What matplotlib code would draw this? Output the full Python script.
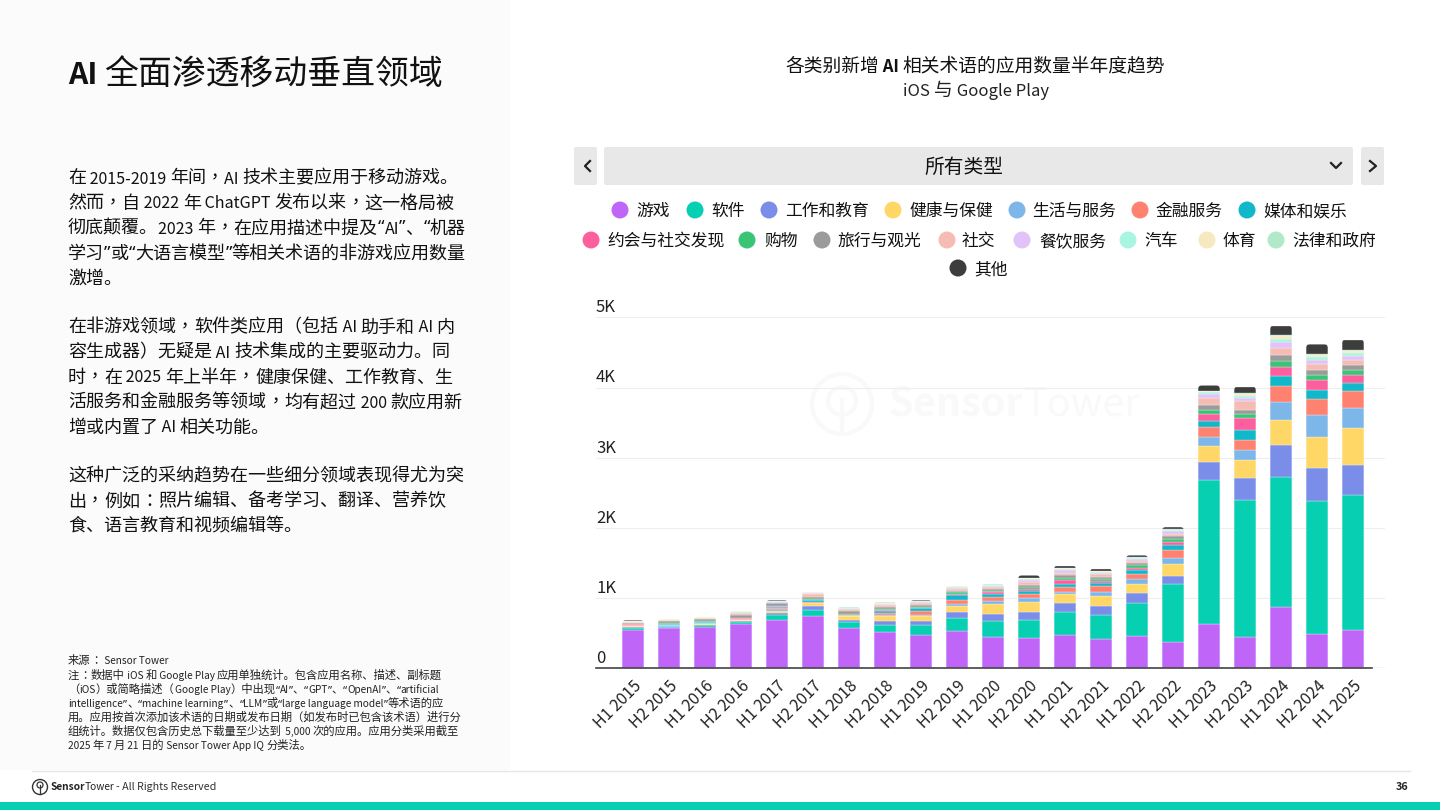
import numpy as np
import matplotlib
matplotlib.use('Agg')
import matplotlib.pyplot as plt
from matplotlib.patches import Rectangle, FancyBboxPatch, Circle
from matplotlib.font_manager import FontProperties, findfont, get_font
from matplotlib.ft2font import LoadFlags

plt.rcParams['font.family'] = ['Noto Sans CJK SC', 'DejaVu Sans']

periods = ['H1 2015', 'H2 2015', 'H1 2016', 'H2 2016', 'H1 2017', 'H2 2017', 'H1 2018', 'H2 2018',
           'H1 2019', 'H2 2019', 'H1 2020', 'H2 2020', 'H1 2021', 'H2 2021', 'H1 2022', 'H2 2022',
           'H1 2023', 'H2 2023', 'H1 2024', 'H2 2024', 'H1 2025']

game = [545, 570, 585, 623, 680, 745, 570, 510, 470, 530, 440, 428, 470, 418, 452, 376, 623, 442, 870, 485, 547]
software = [20, 18, 25, 30, 70, 80, 85, 110, 150, 183, 230, 262, 324, 338, 480, 827, 2059, 1955, 1855, 1897, 1916]
work_edu = [18, 12, 10, 15, 30, 55, 30, 45, 50, 87, 105, 110, 133, 124, 133, 114, 257, 309, 451, 466, 437]
health = [12, 6, 6, 10, 35, 45, 55, 70, 70, 80, 133, 137, 123, 140, 138, 163, 223, 256, 364, 452, 520]
life = [8, 6, 10, 10, 25, 5, 5, 15, 20, 38, 47, 57, 30, 60, 62, 90, 133, 143, 250, 314, 294]
finance = [5, 4, 5, 5, 15, 10, 6, 30, 55, 57, 58, 62, 70, 85, 81, 118, 143, 143, 228, 219, 233]
media = [10, 10, 12, 12, 20, 28, 5, 35, 35, 65, 47, 44, 50, 45, 54, 62, 85, 142, 142, 127, 119]
dating = [5, 4, 4, 5, 8, 6, 4, 8, 10, 15, 20, 25, 60, 36, 30, 47, 100, 176, 134, 148, 109]
shopping = [8, 8, 8, 10, 8, 10, 5, 22, 15, 25, 25, 30, 30, 28, 35, 48, 57, 57, 81, 77, 75]
travel = [15, 26, 28, 35, 30, 35, 50, 30, 30, 25, 25, 30, 37, 29, 30, 35, 67, 53, 85, 61, 68]
social = [6, 14, 14, 25, 12, 35, 25, 20, 20, 25, 30, 35, 35, 32, 35, 38, 103, 128, 110, 94, 82]
food = [4, 6, 6, 10, 8, 10, 8, 15, 15, 15, 15, 30, 35, 25, 25, 30, 63, 52, 80, 50, 50]
auto = [4, 4, 4, 8, 10, 8, 6, 10, 10, 12, 10, 20, 15, 15, 15, 18, 20, 29, 50, 46, 44]
sports = [5, 6, 5, 15, 5, 8, 8, 8, 5, 6, 5, 12, 8, 7, 5, 8, 14, 25, 30, 24, 26]
law = [5, 4, 3, 5, 5, 6, 5, 7, 5, 4, 3, 8, 5, 5, 4, 6, 10, 15, 25, 20, 17]
other = [10, 6, 5, 2, 4, 4, 8, 10, 5, 8, 10, 30, 35, 30, 28, 30, 73, 88, 128, 137, 147]

series = [game, software, work_edu, health, life, finance, media, dating,
          shopping, travel, social, food, auto, sports, law, other]
names = ['游戏', '软件', '工作和教育', '健康与保健', '生活与服务', '金融服务', '媒体和娱乐',
         '约会与社交发现', '购物', '旅行与观光', '社交', '餐饮服务', '汽车', '体育', '法律和政府', '其他']
colors = ['#bf66f9', '#06cfb2', '#7a8de8', '#ffd766', '#7db7ea', '#ff8270', '#10b8c9', '#fb5f9e',
          '#3cc476', '#9b9b9b', '#f5bcb3', '#e0c3f8', '#a8f5e2', '#f6e9c0', '#b0e8c8', '#3d3d3d']

y_ticks = [0, 1000, 2000, 3000, 4000, 5000]
y_labels = ['0', '1K', '2K', '3K', '4K', '5K']

body_lines = [
    (177, '在 2015-2019 年间，AI 技术主要应用于移动游戏。'),
    (202, '然而，自 2022 年 ChatGPT 发布以来，这一格局被'),
    (227, '彻底颠覆。2023 年，在应用描述中提及“AI”、“机器'),
    (252, '学习”或“大语言模型”等相关术语的非游戏应用数量'),
    (277, '激增。'),
    (326, '在非游戏领域，软件类应用（包括 AI 助手和 AI 内'),
    (351, '容生成器）无疑是 AI 技术集成的主要驱动力。同'),
    (376, '时，在 2025 年上半年，健康保健、工作教育、生'),
    (401, '活服务和金融服务等领域，均有超过 200 款应用新'),
    (426, '增或内置了 AI 相关功能。'),
    (475, '这种广泛的采纳趋势在一些细分领域表现得尤为突'),
    (500, '出，例如：照片编辑、备考学习、翻译、营养饮'),
    (525, '食、语言教育和视频编辑等。'),
]

note_lines = [
    (660, '来源： Sensor Tower'),
    (675, '注：数据中 iOS 和 Google Play 应用单独统计。包含应用名称、描述、副标题'),
    (689, '（iOS）或简略描述（Google Play）中出现“AI”、“GPT”、“OpenAI”、“artificial'),
    (703, 'intelligence”、“machine learning”、“LLM”或“large language model”等术语的应'),
    (717, '用。应用按首次添加该术语的日期或发布日期（如发布时已包含该术语）进行分'),
    (731, '组统计。数据仅包含历史总下载量至少达到 5,000 次的应用。应用分类采用截至'),
    (745, '2025 年 7 月 21 日的 Sensor Tower App IQ 分类法。'),
]

# 图例位置: (圆点 x, 文字 x, y)
legend_pos = [(620, 636, 210), (695, 711, 210), (769, 785, 210), (893, 909, 210),
              (1017, 1032, 210), (1140, 1156, 210), (1247, 1263, 210),
              (591, 607, 240), (747, 764, 240), (822, 838, 240), (947, 962, 240),
              (1022, 1039, 240), (1128, 1144, 240), (1207, 1223, 240), (1276, 1292, 240),
              (958, 974, 268)]

W, H = 1440, 810
CJK_FONT = 'Noto Sans CJK SC'
PUNCT_FONT = 'Noto Sans CJK TC'
QUOTE_FONT = 'Noto Sans'
LATIN_SCALE = 0.89


def advance(s, family, weight, size):
    font = get_font(findfont(FontProperties(family=family, weight=weight)))
    font.set_size(size, 100)
    return sum(font.load_char(ord(c), flags=LoadFlags.NO_HINTING).linearHoriAdvance / 65536 for c in s)


def split_runs(s):
    # 按字符类型切开: latin / quote / punct / cjk
    runs = []
    for c in s:
        if c in '“”':
            kind = 'quote'
        elif c in '，：':
            kind = 'punct'
        elif ord(c) < 128:
            kind = 'latin'
        else:
            kind = 'cjk'
        if runs and runs[-1][0] == kind:
            runs[-1][1] += c
        else:
            runs.append([kind, c])
    return runs


def mixed_text(ax, x, y, s, size, color='#111111', cjk_weight='normal', latin_weight='normal', ha='left'):
    # 中文和西文字号不同, 分段画, y 是行中心
    px = size * 100 / 72
    base = y + 0.36 * px
    items = []
    total = 0
    for kind, run in split_runs(s):
        if kind == 'quote':
            fam, wt, sz = QUOTE_FONT, latin_weight, size
        elif kind == 'latin':
            fam, wt, sz = CJK_FONT, latin_weight, size * LATIN_SCALE
        elif kind == 'punct':
            # 繁体字形的逗号和冒号在字格中间
            fam, wt, sz = PUNCT_FONT, cjk_weight, size
        else:
            fam, wt, sz = CJK_FONT, cjk_weight, size
        items.append((total, run, fam, wt, sz))
        total += advance(run, fam, wt, sz)
    x0 = x - total / 2 if ha == 'center' else x
    for off, run, fam, wt, sz in items:
        ax.text(x0 + off, base, run, family=[fam, 'DejaVu Sans'], fontweight=wt, fontsize=sz,
                color=color, va='baseline', ha='left')


fig = plt.figure(figsize=(W / 100, H / 100), dpi=100, facecolor='white')

# 整页底层, 坐标直接用像素
page = fig.add_axes([0, 0, 1, 1], zorder=0)
page.set_xlim(0, W)
page.set_ylim(H, 0)
page.axis('off')

page.add_patch(Rectangle((0, 0), 510, 770, fc='#fbfbfb', ec='none'))
page.add_patch(Rectangle((0, 802), W, 8, fc='#06cfb2', ec='none'))
page.plot([32, 1410], [771, 771], color='#e6e6e6', lw=1)

# 左侧文字
mixed_text(page, 68, 72, 'AI 全面渗透移动垂直领域', 24.4, cjk_weight='medium', latin_weight='bold')
for y, line in body_lines:
    mixed_text(page, 68, y, line, 13)
for y, line in note_lines:
    mixed_text(page, 68, y, line, 8.15, color='#222222')

# 页脚
page.add_patch(Circle((40, 787), 7.5, fc='none', ec='#333333', lw=1))
page.add_patch(Circle((40, 785), 3, fc='none', ec='#333333', lw=0.9))
page.plot([40, 40], [785, 794], color='#333333', lw=0.9)
page.text(51, 787, 'Sensor', fontsize=7.3, fontweight='bold', color='#222222', va='center')
page.text(85, 787, 'Tower', fontsize=7.3, color='#222222', va='center')
page.text(116, 787, '- All Rights Reserved', fontsize=7.7, color='#333333', va='center')
page.text(1402, 787, '36', fontsize=7.8, fontweight='bold', color='#222222', ha='center', va='center')

# 图表标题
mixed_text(page, 975, 65, '各类别新增 AI 相关术语的应用数量半年度趋势', 13.5, latin_weight='bold', ha='center')
mixed_text(page, 976, 89, 'iOS 与 Google Play', 13.5, color='#222222', ha='center')

# 下拉框和左右按钮
for x0, x1 in [(574, 597), (604, 1353), (1361, 1384)]:
    page.add_patch(FancyBboxPatch((x0, 147), x1 - x0, 38, boxstyle='round,pad=0,rounding_size=2',
                                  fc='#e8e8e8', ec='none'))
page.text(964, 167.5, '所有类型', fontsize=14.2, color='#111111', ha='center', va='center')
page.plot([590, 585, 590], [161, 166, 171], color='#222222', lw=1.6)
page.plot([1370, 1376, 1370], [161, 166, 171], color='#222222', lw=1.6)
page.plot([1331, 1336, 1341], [163, 168, 163], color='#222222', lw=1.6)

# 图例
for (mx, tx, y), name, c in zip(legend_pos, names, colors):
    page.add_patch(Circle((mx, y), 8.5, fc=c, ec='none'))
    page.text(tx, y + 1.5, name, fontsize=12.1, color='#111111', va='center')

# 水印
page.add_patch(Circle((842, 404), 30, fc='none', ec='#f9f9f9', lw=3))
page.add_patch(Circle((842, 401), 14, fc='none', ec='#f9f9f9', lw=3))
page.plot([842, 842], [400, 434], color='#f9f9f9', lw=3)
page.text(888, 405, 'Sensor', fontsize=28.5, fontweight='bold', color='#f9f9f9', va='center')
page.text(1024, 405, 'Tower', fontsize=28.5, color='#f9f9f9', va='center')

# 堆叠柱状图
ax = fig.add_axes([596 / W, 1 - 668 / H, (1385 - 596) / W, (668 - 317.5) / H], zorder=1)
ax.patch.set_alpha(0)
x = np.arange(len(periods))
ax.set_xlim((596 - 633) / 36, (1385 - 633) / 36)
ax.set_ylim(0, 5000)

bar_w = 0.6
data = np.array(series, dtype=float)
totals = data.sum(axis=0)
px_x = 36
px_y = 350.5 / 5000
bottoms = np.zeros(len(periods))
all_bars = []
for vals, c, name in zip(data, colors, names):
    bars = ax.bar(x, vals, bottom=bottoms, width=bar_w, color=c, edgecolor='white', linewidth=0.2,
                  label=name, zorder=3)
    all_bars.append(bars)
    bottoms = bottoms + vals

# 每根柱子的顶部做圆角
for i in range(len(periods)):
    clip = FancyBboxPatch((x[i] - bar_w / 2, -1000), bar_w, totals[i] + 1000,
                          boxstyle='round,pad=0,rounding_size=%f' % (3.5 / px_x),
                          mutation_aspect=px_x / px_y, transform=ax.transData,
                          fc='none', ec='none')
    ax.add_patch(clip)
    for bars in all_bars:
        bars[i].set_clip_path(clip)

for spine in ax.spines.values():
    spine.set_visible(False)

ax.set_yticks(y_ticks)
ax.set_yticklabels([])
ax.tick_params(axis='y', length=0)
ax.tick_params(axis='x', length=0, pad=7)
ax.grid(axis='y', color='#eeeeee', lw=0.8, zorder=0)
ax.set_axisbelow(True)
for v, lab in zip(y_ticks, y_labels):
    ax.annotate(lab, xy=(0, v), xycoords=ax.get_yaxis_transform(), xytext=(0, 0.8), textcoords='offset points',
                fontsize=12, color='#222222', ha='left', va='bottom')

ax.axhline(0, color='#cccccc', lw=1, zorder=2)
ax.plot([ax.get_xlim()[0], (1372 - 633) / 36], [0, 0], color='#444444', lw=1.2, zorder=4, clip_on=False)

ax.set_xticks(x)
ax.set_xticklabels(periods, rotation=45, ha='right', rotation_mode='anchor', fontsize=11.6, color='#222222')

fig.savefig('out.png', dpi=100)
